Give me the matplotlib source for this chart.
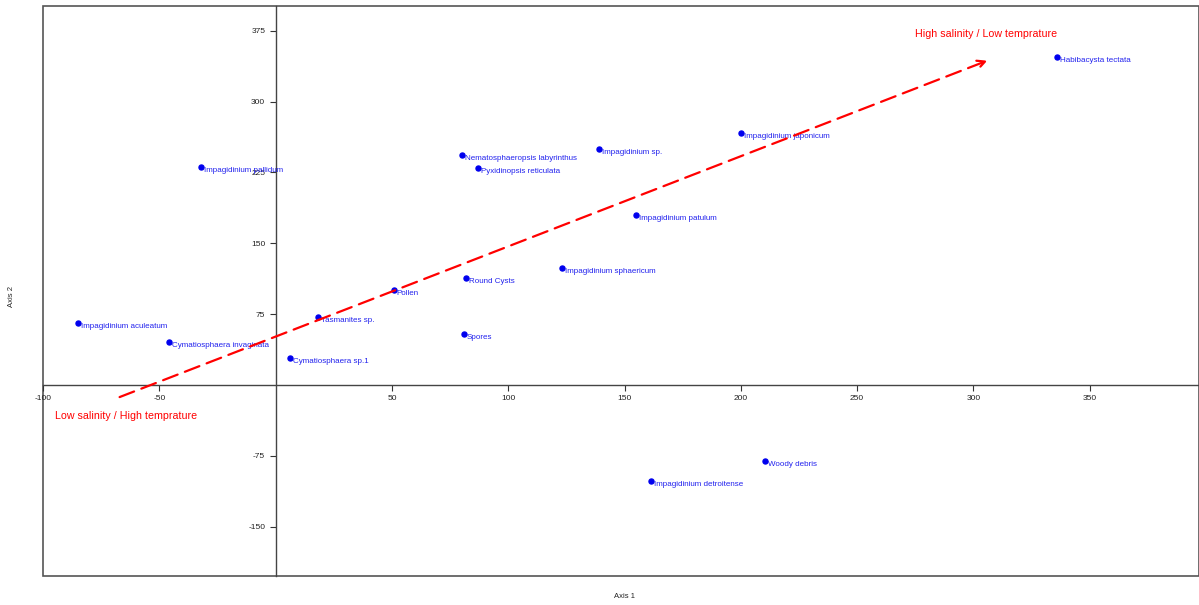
import numpy as np
import matplotlib.pyplot as plt
from matplotlib.patches import Rectangle

plt.rcParams['axes.unicode_minus'] = False
plt.rcParams['font.family'] = ['Liberation Sans', 'DejaVu Sans']

# Datos de la ordenación (Axis 1, Axis 2)
especies = ["Impagidinium pallidum", "Impagidinium aculeatum", "Cymatiosphaera invaginata",
            "Cymatiosphaera sp.1", "Tasmanites sp.", "Pollen", "Round Cysts", "Spores",
            "Nematosphaeropsis labyrinthus", "Pyxidinopsis reticulata", "Impagidinium sp.",
            "Impagidinium sphaericum", "Impagidinium patulum", "Impagidinium japonicum",
            "Habibacysta tectata", "Woody debris", "Impagidinium detroitense"]
eje1 = [-32.1, -85.0, -45.9, 6.1, 18.2, 50.9, 81.8, 81.0, 80.1, 87.0, 139.0,
        123.1, 155.0, 200.0, 335.9, 210.4, 161.4]
eje2 = [230.9, 65.7, 45.6, 28.6, 72.0, 100.6, 113.3, 54.0, 243.6, 229.9, 250.0,
        123.9, 180.0, 267.0, 347.5, -80.5, -101.7]

# Flecha del gradiente
flecha_inicio = (-68.2, -13.8)
flecha_fin = (307.1, 344.3)

xticks = [-100, -50, 50, 100, 150, 200, 250, 300, 350]
yticks = [-150, -75, 75, 150, 225, 300, 375]

fig = plt.figure(figsize=(11.99, 6.05), dpi=100)
ax = fig.add_axes([0.0359, 0.048, 0.9641, 0.942])

ax.set_xlim(-100, 397)
ax.set_ylim(-202, 401)

# Ejes cruzados en el origen
ax.spines['left'].set_position(('data', 0))
ax.spines['bottom'].set_position(('data', 0))
ax.spines['top'].set_visible(False)
ax.spines['right'].set_visible(False)
for s in ['left', 'bottom']:
    ax.spines[s].set_color('#444444')
    ax.spines[s].set_linewidth(1.0)
ax.add_patch(Rectangle((0, 0), 1, 1, transform=ax.transAxes, fill=False,
                       ec='#555555', lw=1.2, clip_on=False))

ax.set_xticks(xticks)
ax.set_yticks(yticks)
ax.tick_params(axis='both', direction='out', length=4, width=0.8,
               labelsize=6, colors='#333333', labelcolor='#222222')

fig.text(0.521, 0.008, "Axis 1", fontsize=5.5, ha='center', va='bottom', color='#222222')
fig.text(0.010, 0.51, "Axis 2", fontsize=5.5, rotation=90, ha='center', va='center',
         color='#222222')

# Puntos y etiquetas
ax.scatter(eje1, eje2, s=13, color='#0000ee', zorder=3)
for nombre, x, y in zip(especies, eje1, eje2):
    ax.annotate(nombre, (x, y), xytext=(2, -2.5), textcoords='offset points',
                fontsize=5.8, color='#2222ee', ha='left', va='center')

# Flecha discontinua
ax.annotate("", xy=flecha_fin, xytext=flecha_inicio,
            arrowprops=dict(arrowstyle='->', color='red', lw=1.6,
                            linestyle=(0, (7, 3.5)), mutation_scale=14))

ax.text(-95, -33, "Low salinity / High temprature", color='red', fontsize=7.7,
        ha='left', va='center')
ax.text(275, 371, "High salinity / Low temprature", color='red', fontsize=7.7,
        ha='left', va='center')

fig.savefig("out.png", dpi=100)
